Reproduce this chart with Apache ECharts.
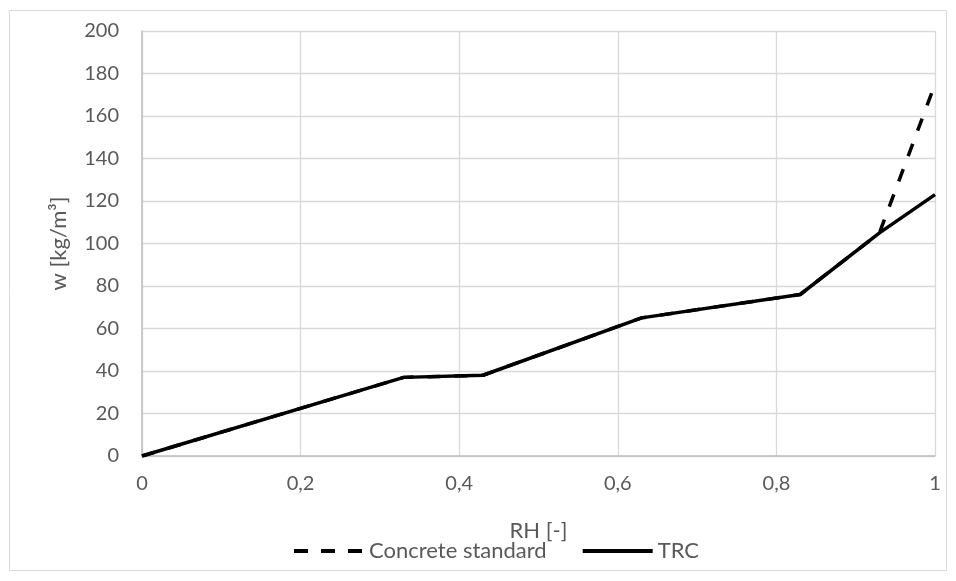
<!DOCTYPE html>
<html><head><meta charset="utf-8">
<script src="https://cdn.jsdelivr.net/npm/echarts@6/dist/echarts.min.js"></script>
<style>html,body{margin:0;padding:0;background:#fff}#c{width:956px;height:581px}</style>
</head><body><div id="c"></div>
<script>
var seriesNames = ['Concrete standard', 'TRC'];
var concreteX = [0, 0.33, 0.43, 0.63, 0.83, 0.93, 1];
var concreteY = [0, 37, 38, 65, 76, 105, 175];
var trcX = [0, 0.33, 0.43, 0.63, 0.83, 0.93, 1];
var trcY = [0, 37, 38, 65, 76, 105, 123];
var xTicks = [0, 0.2, 0.4, 0.6, 0.8, 1];
var yTicks = [0, 20, 40, 60, 80, 100, 120, 140, 160, 180, 200];

function pairs(xs, ys){ return xs.map(function(x,i){ return [x, ys[i]]; }); }
var font = 'Lato, "Open Sans", "Liberation Sans", sans-serif';
var chart = echarts.init(document.getElementById('c'), null, {renderer:'canvas'});
chart.setOption({
  animation:false,
  backgroundColor:'#fff',
  graphic:[{type:'rect', shape:{x:9.5,y:10.5,width:937,height:560}, style:{fill:'none', stroke:'#d9d9d9', lineWidth:1}, silent:true}],
  grid:{left:142, right:21, top:31, bottom:125, containLabel:false},
  legend:{
    top:540, left:292, padding:0, itemWidth:70, itemHeight:22, itemGap:34,
    textStyle:{color:'#595959', fontSize:22, fontFamily:font},
    itemStyle:{opacity:0},
    data:[{name:seriesNames[0], lineStyle:{width:4, type:[14,13], cap:'butt'}}, {name:seriesNames[1], lineStyle:{width:4}}]
  },
  xAxis:{
    type:'value', min:0, max:1, interval:0.2,
    name:'RH [-]', nameLocation:'middle', nameGap:64,
    nameTextStyle:{color:'#595959', fontSize:22, fontFamily:font},
    axisLine:{show:true, lineStyle:{color:'#bfbfbf', width:1.5}},
    axisTick:{show:false},
    axisLabel:{color:'#595959', fontSize:20, fontFamily:font, margin:18, formatter:function(v){ return String(+(+v).toFixed(1)).replace('.', ','); }},
    splitLine:{show:true, lineStyle:{color:'#d9d9d9', width:1.3}}
  },
  yAxis:{
    type:'value', min:0, max:200, interval:20,
    name:'w [kg/m³]', nameLocation:'middle', nameGap:72, nameRotate:90,
    nameTextStyle:{color:'#595959', fontSize:22, fontFamily:font},
    axisLine:{show:true, lineStyle:{color:'#bfbfbf', width:1.5}},
    axisTick:{show:false},
    axisLabel:{color:'#595959', fontSize:20, fontFamily:font, margin:23},
    splitLine:{show:true, lineStyle:{color:'#d9d9d9', width:1.3}}
  },
  series:[
    {name:seriesNames[0], type:'line', data:pairs(concreteX, concreteY), symbol:'none', z:2,
     lineStyle:{color:'#000', width:3.5, type:[13,14], cap:'butt'}, itemStyle:{color:'#000'}},
    {name:seriesNames[1], type:'line', data:pairs(trcX, trcY), symbol:'none', z:3,
     lineStyle:{color:'#000', width:3.5, type:'solid'}, itemStyle:{color:'#000'}}
  ]
});
</script></body></html>
